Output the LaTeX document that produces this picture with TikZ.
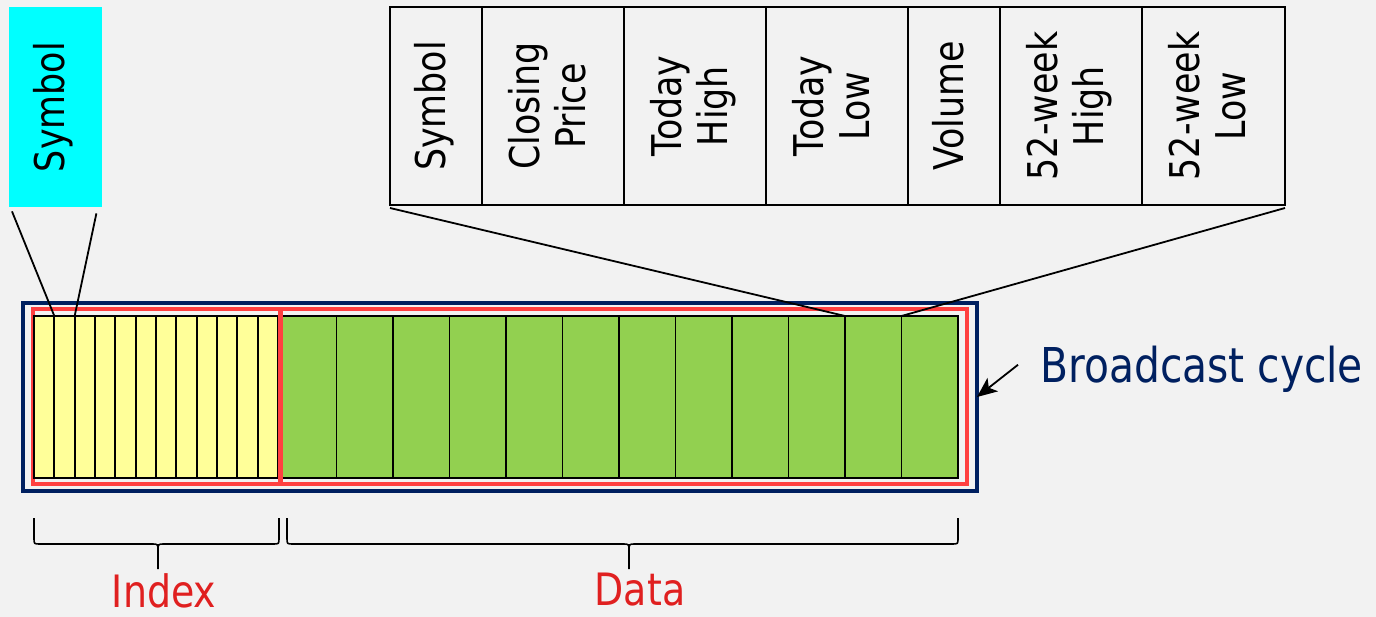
\documentclass[tikz,border=0pt]{standalone}
\usepackage{fontspec}
\setmainfont[FakeStretch=0.85]{DejaVu Sans}
\usetikzlibrary{positioning,arrows.meta,calc}
\definecolor{navy}{HTML}{002060}
\definecolor{framered}{HTML}{FF4040}
\definecolor{labelred}{HTML}{E02020}
\definecolor{pale}{HTML}{F2F2F2}
\definecolor{keycyan}{HTML}{00FFFF}
\definecolor{idxyellow}{HTML}{FFFF99}
\definecolor{datagreen}{HTML}{92D050}
\tikzset{>={Stealth[length=20pt,width=17pt,inset=5pt]}}
\newcommand{\fieldfont}{\fontsize{41}{46}\selectfont}
\tikzstyle{field}=[draw, line width=1.8pt, minimum height=198pt, inner sep=0, outer sep=0, font=\fieldfont]
\tikzstyle{ycell}=[draw, fill=idxyellow, line width=1.8pt, minimum width=20.33pt, minimum height=162pt, inner sep=0, outer sep=0]
\tikzstyle{gcell}=[ycell, fill=datagreen, minimum width=56.5pt]
\tikzstyle{lbl}=[text=labelred, inner sep=0, font=\fontsize{44.6}{50}\selectfont]
\newcommand{\vtext}[1]{\rotatebox{90}{\begin{tabular}{@{}c@{}}#1\end{tabular}}}
% curly brace opening downwards: left x, right x, tip x, tip name
\newcommand{\drawbrace}[4]{%
  \draw[line width=1.6pt] (#1,518) -- (#1,538) .. controls (#1,544) .. ({#1+6},544) -- ({#3-6},544)
    .. controls (#3,544) .. (#3,551) -- (#3,569) coordinate (#4)
    (#3,551) .. controls (#3,544) .. ({#3+6},544) -- ({#2-6},544) .. controls (#2,544) .. (#2,538) -- (#2,518);}

\begin{document}
\begin{tikzpicture}[x=1pt,y=-1pt]
	\fill[pale] (0,0) rectangle (1376,617);
	\useasboundingbox (0,0) rectangle (1376,617);

	% single index entry
	\node[fill=keycyan, minimum width=93pt, minimum height=200pt, inner sep=0, font=\fieldfont, anchor=north west] (sym) at (9,7) {\vtext{Symbol}};

	% data record
	\node[field, minimum width=92pt, anchor=north west] (f1) at (390,7) {\vtext{Symbol}};
	\node[field, minimum width=142pt, right=0pt of f1] (f2) {\vtext{Closing\\Price}};
	\node[field, minimum width=142pt, right=0pt of f2] (f3) {\vtext{Today\\High}};
	\node[field, minimum width=142pt, right=0pt of f3] (f4) {\vtext{Today\\Low}};
	\node[field, minimum width=92pt, right=0pt of f4] (f5) {\vtext{Volume}};
	\node[field, minimum width=142pt, right=0pt of f5] (f6) {\vtext{52-week\\High}};
	\node[field, minimum width=143pt, right=0pt of f6] (f7) {\vtext{52-week\\Low}};

	% broadcast cycle
	\node[draw=navy, line width=4pt, minimum width=954pt, minimum height=188pt, inner sep=0, outer sep=0] (cycle) at (500,397) {};
	\draw[framered, line width=4pt] (33,309) rectangle (967,484);
	\foreach \i in {1,...,12}
		\node[ycell] (y\i) at ({34+20.33*(\i-0.5)},397) {};
	\foreach \i in {1,...,12}
		\node[gcell] (g\i) at ({280+56.5*(\i-0.5)},397) {};
	\draw[framered, line width=5pt] (280,309) -- (280,484);

	% zoom lines
	\draw[line width=1.8pt] ([shift={(3pt,-4pt)}]sym.south west) -- (y2.north west);
	\draw[line width=1.8pt] ([shift={(-6pt,-6pt)}]sym.south east) -- (y2.north east);
	\draw[line width=1.8pt] ([yshift=-3pt]f1.south west) -- (g11.north west);
	\draw[line width=1.8pt] ([yshift=-3pt]f7.south east) -- (g11.north east);

	\node[text=navy, inner sep=0, anchor=base west, font=\fontsize{48}{56}\selectfont] (bc) at (1040,383) {Broadcast cycle};
	\draw[->, line width=1.8pt] ([xshift=-22pt,yshift=5pt]bc.west) -- (cycle.east);

	% braces
	\drawbrace{34}{279}{158}{itip}
	\drawbrace{287}{958}{629}{dtip}
	\node[lbl, below=4pt of itip, xshift=6pt] (idx) {Index};
	\node[lbl, below=4pt of dtip, xshift=11pt] (dat) {Data};
\end{tikzpicture}
\end{document}
